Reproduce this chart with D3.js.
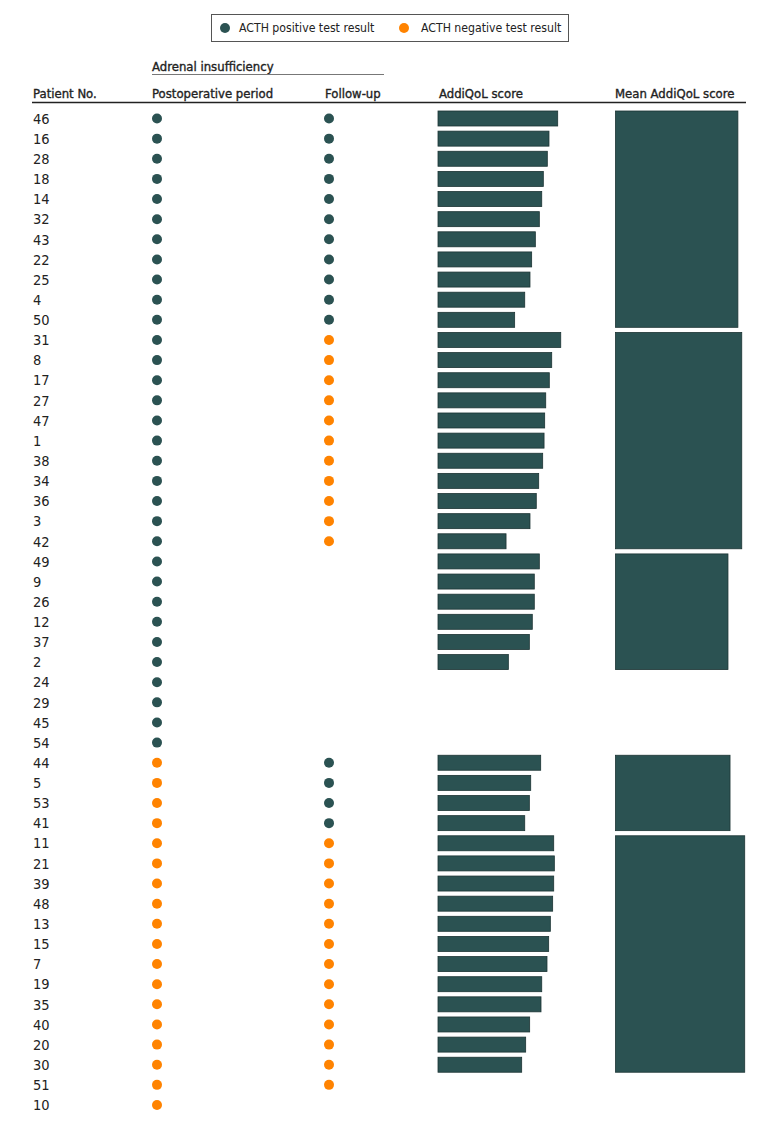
<!DOCTYPE html>
<html><head><meta charset="utf-8">
<script src="https://cdn.jsdelivr.net/npm/d3@7"></script>
<style>body{margin:0;background:#fff}svg{display:block}text{font-family:"DejaVu Sans Condensed","Liberation Sans Narrow",sans-serif;fill:#222}</style>
</head><body>
<script>
// ---- data ----
const patients = [46,16,28,18,14,32,43,22,25,4,50,31,8,17,27,47,1,38,34,36,3,42,49,9,26,12,37,2,24,29,45,54,44,5,53,41,11,21,39,48,13,15,7,19,35,40,20,30,51,10];
// ACTH result: "pos" / "neg" / null (not tested)
const postop = ["pos","pos","pos","pos","pos","pos","pos","pos","pos","pos","pos","pos","pos","pos","pos","pos","pos","pos","pos","pos","pos","pos","pos","pos","pos","pos","pos","pos","pos","pos","pos","pos","neg","neg","neg","neg","neg","neg","neg","neg","neg","neg","neg","neg","neg","neg","neg","neg","neg","neg"];
const followup = ["pos","pos","pos","pos","pos","pos","pos","pos","pos","pos","pos","neg","neg","neg","neg","neg","neg","neg","neg","neg","neg","neg",null,null,null,null,null,null,null,null,null,null,"pos","pos","pos","pos","neg","neg","neg","neg","neg","neg","neg","neg","neg","neg","neg","neg","neg",null];
const scores = [114.0,105.7,104.1,100.3,98.8,96.5,92.7,89.2,87.6,82.6,73.0,116.9,108.3,106.0,102.6,101.6,101.0,99.7,95.9,93.6,87.6,64.8,96.5,91.7,91.7,89.8,87.0,67.0,null,null,null,null,97.8,88.3,87.0,82.6,110.2,110.8,110.2,109.2,107.0,105.4,103.8,98.8,98.1,87.3,83.5,79.7,null,null];
// mean AddiQoL score per group (first patient, last patient, mean)
const groupFirst = [46,31,49,44,11];
const groupLast  = [50,42,2,41,30];
const groupMean  = [95.0,98.0,87.3,88.9,100.3];
const legendLabels = ["ACTH positive test result","ACTH negative test result"];
const headers = ["Patient No.","Postoperative period","Follow-up","AddiQoL score","Mean AddiQoL score"];
const spanHeader = "Adrenal insufficiency";

// ---- drawing ----
const W = 780, H = 1124;
const colors = {pos:"#2b5252", neg:"#ff8300"};
const barFill = "#2b5252", barStroke = "#1c3434";
const svg = d3.select("body").append("svg").attr("width",W).attr("height",H);

const y = d3.scalePoint().domain(patients).range([118.5,1105]);
const barH = 15;
const xBar = d3.scaleLinear().domain([0,120]).range([438,438+126]);
const xMean = d3.scaleLinear().domain([0,120]).range([615.5,615.5+154.6]);

const colX = {id:33, post:152, fol:325, bar:439, mean:615};
const dotX = {post:157, fol:329};

// legend
const lg = svg.append("g");
lg.append("rect").attr("x",211.5).attr("y",14.5).attr("width",357).attr("height",27).attr("fill","#fff").attr("stroke","#555").attr("stroke-width",1);
[[225,"pos",239],[404,"neg",421]].forEach((d,i)=>{
  lg.append("circle").attr("cx",d[0]).attr("cy",28).attr("r",5).attr("fill",colors[d[1]]);
  lg.append("text").attr("x",d[2]).attr("y",28).attr("dy","0.35em").attr("font-size",12.2).text(legendLabels[i]);
});

// headers
const hStyle = s=>s.attr("font-size",13).attr("stroke","#222").attr("stroke-width",0.35);
hStyle(svg.append("text").attr("x",colX.post).attr("y",71)).text(spanHeader);
svg.append("line").attr("x1",152).attr("x2",384).attr("y1",74.5).attr("y2",74.5).attr("stroke","#777").attr("stroke-width",1);
const hx = [colX.id,colX.post,colX.fol,colX.bar,colX.mean];
headers.forEach((h,i)=>hStyle(svg.append("text").attr("x",hx[i]).attr("y",98)).text(h));
svg.append("line").attr("x1",32).attr("x2",746).attr("y1",102.5).attr("y2",102.5).attr("stroke","#222").attr("stroke-width",1.6);

// rows
const rows = patients.map((p,i)=>({p, post:postop[i], fol:followup[i], s:scores[i]}));
const g = svg.append("g");
g.selectAll("text.id").data(rows).join("text").attr("class","id")
  .attr("x",colX.id).attr("y",d=>y(d.p)).attr("dy","0.36em").attr("font-size",14.5).text(d=>d.p);
g.selectAll("circle.post").data(rows.filter(d=>d.post)).join("circle").attr("class","post")
  .attr("cx",dotX.post).attr("cy",d=>y(d.p)).attr("r",5).attr("fill",d=>colors[d.post]);
g.selectAll("circle.fol").data(rows.filter(d=>d.fol)).join("circle").attr("class","fol")
  .attr("cx",dotX.fol).attr("cy",d=>y(d.p)).attr("r",5).attr("fill",d=>colors[d.fol]);
g.selectAll("rect.bar").data(rows.filter(d=>d.s!=null)).join("rect").attr("class","bar")
  .attr("x",xBar(0)).attr("y",d=>y(d.p)-barH/2).attr("width",d=>xBar(d.s)-xBar(0)).attr("height",barH)
  .attr("fill",barFill).attr("stroke",barStroke).attr("stroke-width",0.8);

// mean rects
const means = groupMean.map((m,i)=>({m, a:groupFirst[i], b:groupLast[i]}));
g.selectAll("rect.mean").data(means).join("rect").attr("class","mean")
  .attr("x",xMean(0)).attr("y",d=>y(d.a)-barH/2).attr("width",d=>xMean(d.m)-xMean(0))
  .attr("height",d=>y(d.b)-y(d.a)+barH)
  .attr("fill",barFill).attr("stroke",barStroke).attr("stroke-width",0.8);
</script>
</body></html>
